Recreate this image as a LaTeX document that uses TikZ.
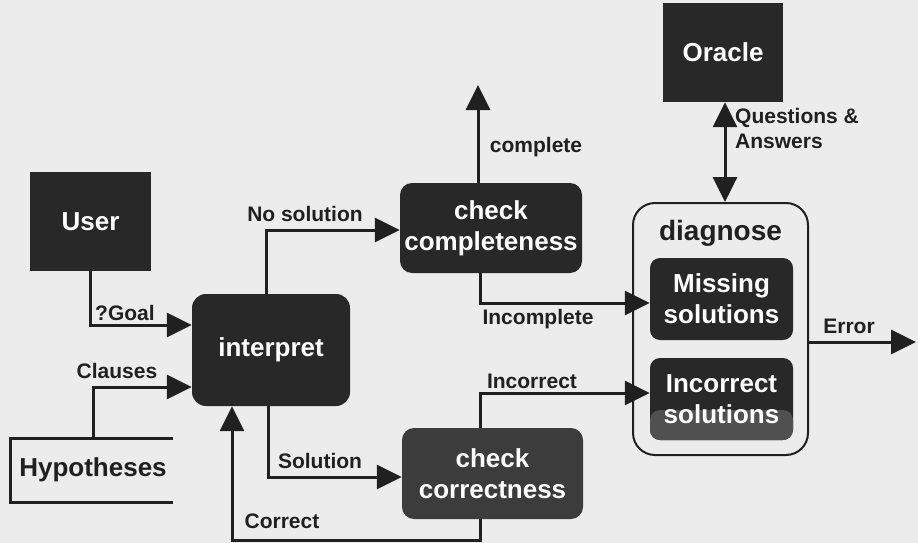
\documentclass[tikz,border=0pt]{standalone}
\usepackage{fontspec}
\setmainfont{Liberation Sans}
\usetikzlibrary{arrows.meta}
\definecolor{bg}{RGB}{236,236,236}
\definecolor{boxdark}{RGB}{40,40,40}
\definecolor{boxmid}{RGB}{60,60,60}
\definecolor{boxlight}{RGB}{80,80,80}
\definecolor{ink}{RGB}{32,32,32}
\begin{document}
\begin{tikzpicture}[x=1pt,y=-1pt,
  darkbox/.style={fill=boxdark, text=white, inner sep=0pt, align=center,
    font=\bfseries\fontsize{26}{31}\selectfont},
  rbox/.style={darkbox, rounded corners=12pt},
  lbl/.style={font=\bfseries\fontsize{21}{25}\selectfont, text=ink, inner sep=0pt, anchor=base},
  arr/.style={draw=ink, line width=3pt, -{Triangle[length=25pt,width=24pt]}},
  darr/.style={draw=ink, line width=3pt, {Triangle[length=25pt,width=24pt]}-{Triangle[length=25pt,width=24pt]}}
]
\fill[bg] (0,0) rectangle (918,543);
\useasboundingbox (0,0) rectangle (918,543);

% boxes
\node[darkbox, minimum width=121pt, minimum height=99pt] (user) at (90.5,221.5) {User};
\node[darkbox, minimum width=120pt, minimum height=99pt] (oracle) at (723,52.5) {Oracle};
\node[rbox, rounded corners=14pt, minimum width=158pt, minimum height=112pt] (interp) at (271,350) {interpret};
\node[rbox, minimum width=182pt, minimum height=90pt] (ccomp) at (491,228) {check\\completeness};
\node[rbox, fill=boxmid, minimum width=181pt, minimum height=91pt] (ccorr) at (492.5,473.5) {check\\correctness};
\node[draw=ink, line width=2pt, rounded corners=22pt, minimum width=175pt, minimum height=252pt] (diag) at (720.5,329) {};
\node[lbl, font=\bfseries\fontsize{28}{32}\selectfont] (diagt) at (720.5,240) {diagnose};
\node[rbox, rounded corners=10pt, minimum width=143pt, minimum height=82pt] (missing) at (721.5,299) {Missing\\solutions};
\node[rbox, rounded corners=10pt, minimum width=143pt, minimum height=82pt,
  path picture={\fill[boxlight] ([yshift=-52pt]path picture bounding box.north west) rectangle (path picture bounding box.south east);}] (incsol) at (721.5,399) {Incorrect\\solutions};

% Hypotheses (open store)
\draw[ink, line width=3pt] (173,438) -- (10,438) -- (10,502) -- (173,502);
\node[lbl, font=\bfseries\fontsize{26}{30}\selectfont] (hyp) at (93,476) {Hypotheses};
\coordinate (hyptop) at (93,438);
\coordinate (cup) at (478,85);
\coordinate (cbot) at (232,540);
\coordinate (errend) at (916,342);

% connectors
\draw[arr] (user.south) |- ([yshift=25pt]interp.west);
\draw[arr] (hyptop) |- ([yshift=-37pt]interp.west);
\draw[arr] ([xshift=-5pt]interp.north) |- ([yshift=-2pt]ccomp.west);
\draw[arr] ([xshift=-13pt]ccomp.north) -- (cup);
\draw[arr] ([xshift=-11pt]ccomp.south) |- ([yshift=-4pt]missing.west);
\draw[arr] ([xshift=-3pt]interp.south) |- ([yshift=-3.5pt]ccorr.west);
\draw[arr] ([xshift=-12.5pt]ccorr.north) |- ([yshift=6pt]incsol.west);
\draw[arr] ([xshift=-12.5pt]ccorr.south) |- (cbot) -- ([xshift=-39pt]interp.south);
\draw[darr] ([xshift=2pt]oracle.south) -- ([xshift=2pt]oracle.south |- diag.north);
\draw[arr] ([yshift=-13pt]diag.east) -- (errend);

% labels
\node[lbl] (lgoal) at (125,320) {?Goal};
\node[lbl] (lclauses) at (117,378) {Clauses};
\node[lbl] (lnosol) at (305,221) {No solution};
\node[lbl] (lsol) at (320,468) {Solution};
\node[lbl] (lcorrect) at (282,528) {Correct};
\node[lbl] (lcomplete) at (536,152) {complete};
\node[lbl] (lincomplete) at (538,324) {Incomplete};
\node[lbl] (lincorrect) at (532,388) {Incorrect};
\node[lbl, anchor=base west, align=left] (lqa) at (735,148) {Questions \&\\Answers};
\node[lbl] (lerror) at (849,333) {Error};
\end{tikzpicture}
\end{document}
